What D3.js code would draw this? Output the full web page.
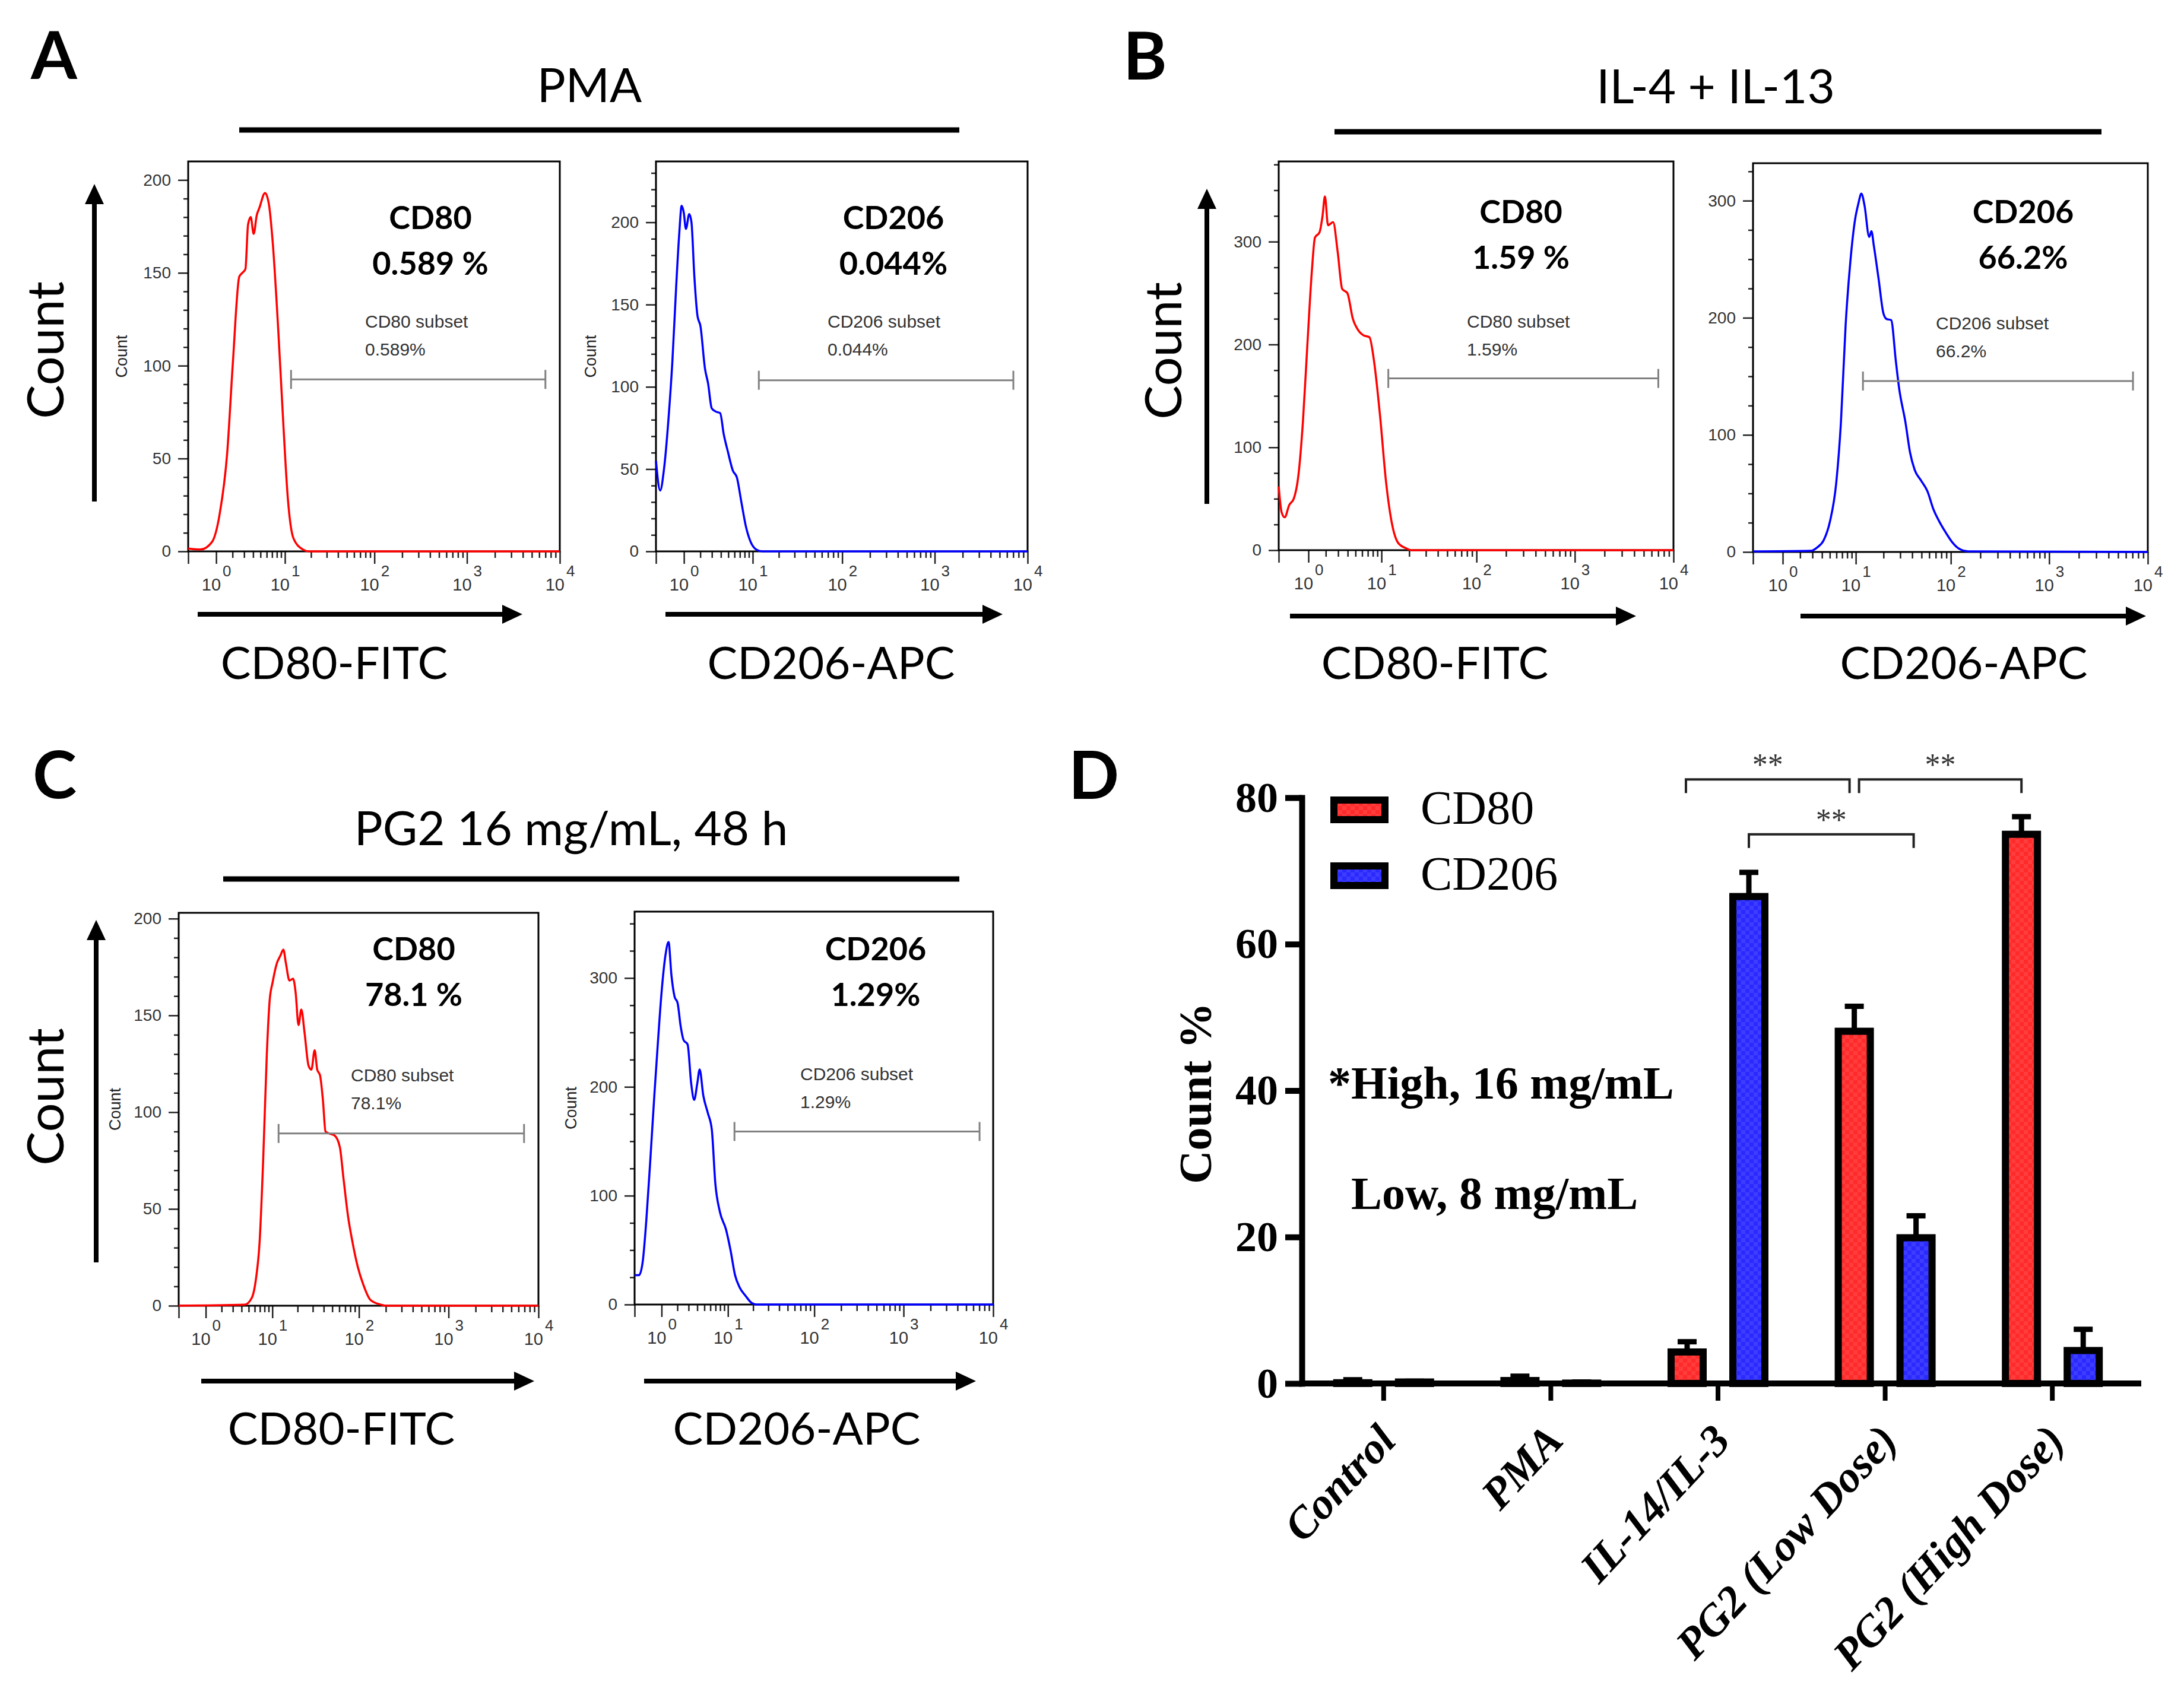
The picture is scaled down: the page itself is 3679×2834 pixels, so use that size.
<!DOCTYPE html>
<html>
<head>
<meta charset="utf-8">
<script src="https://d3js.org/d3.v7.min.js"></script>
<style>
body { margin: 0; background: #fff; }
svg { display: block; }
</style>
</head>
<body>
<script>
var width = 3679;
var height = 2834;

var SANS = "Lato, 'Open Sans', sans-serif";
var ARIAL = "'Liberation Sans', Arial, sans-serif";
var SERIF = "'Liberation Serif', 'Times New Roman', serif";

// Histogram traces: [fluorescence, count]

var histA80 = [[0,1.5],[0.36,1],[0.8,5],[1.18,20],[1.63,53],[2.03,102],[2.55,148],[2.83,150],[3.13,152],[3.41,176],[3.71,180],[4.07,171],[4.47,181],[4.84,185],[5.72,193],[6.39,187],[7.11,167],[8.35,118],[9.56,69],[10.8,29],[12.6,7],[16.2,1],[19,0],[10000,0]];
var histA206 = [[0,55],[0.11,37],[0.22,50],[0.37,82],[0.5,115],[0.65,161],[0.78,193],[0.89,210],[0.99,206],[1.1,196],[1.28,205],[1.41,200],[1.59,167],[1.8,143],[2.01,137],[2.37,111],[2.64,102],[2.98,87],[3.39,85],[3.91,84],[4.37,71],[4.92,61],[5.73,49],[6.42,45],[7.3,30],[8.3,15],[9.4,6],[11.1,1],[13,0],[10000,0]];
var histB80 = [[0,62],[0.07,37],[0.15,32],[0.28,44],[0.42,50],[0.58,72],[0.76,125],[0.95,199],[1.17,272],[1.33,304],[1.59,309],[1.78,325],[1.94,344],[2.16,316],[2.56,319],[2.96,290],[3.4,254],[3.96,250],[4.64,225],[5.49,213],[6.21,209],[7.31,207],[8.24,184],[9.63,131],[11.25,66],[13.1,25],[15.25,7],[18.4,2],[21.3,0],[10000,0]];
var histB206 = [[0,0.5],[2.88,1],[3.49,4],[4.2,10],[5.02,26],[5.97,59],[6.78,111],[7.68,194],[8.69,248],[9.82,284],[10.64,297],[11.53,306],[12.48,296],[14.04,269],[14.83,274],[15.79,261],[17.74,233],[19.92,204],[21.5,199],[24.1,198],[27,163],[29.2,140],[34,111],[38,85],[42.5,70],[49.4,61],[57.4,52],[66.6,36],[77.3,25],[89.6,16],[104,8],[120,3],[150,0.5],[10000,0]];
var histC80 = [[0,0],[4.39,0.5],[5.49,4],[6.24,14],[6.94,33],[7.71,76],[8.55,130],[9.28,158],[10.07,167],[11.36,177],[12.55,181],[13.58,184],[14.56,177],[16.06,168],[17.7,169],[18.95,162],[20.5,145],[22.1,153],[24.1,141],[26.8,124],[28.9,122],[31.5,132],[33.7,122],[36.3,119],[39.2,106],[41.9,90],[46,89],[53,88],[60.9,82],[66.9,66],[75.5,46],[84.5,33],[97.1,20],[111.7,11],[134.5,3],[178,0.5],[200,0],[10000,0]];
var histC206 = [[0,27],[0.12,27],[0.23,39],[0.35,77],[0.5,134],[0.66,192],[0.82,241],[1.0,287],[1.21,321],[1.39,333],[1.58,302],[1.79,283],[2.02,277],[2.26,256],[2.52,243],[2.9,239],[3.28,203],[3.62,188],[4.0,203],[4.32,216],[4.84,192],[5.56,176],[6.26,161],[6.96,111],[7.95,85],[9.46,69],[10.75,50],[12.2,27],[13.8,16],[16.3,8],[19.2,1.5],[22,0],[10000,0]];

// Gates and their read-outs
var gateLo = [11.8, 11.8, 11.9, 12.0, 11.9, 12.0];
var gateHi = [7000, 7026, 7020, 7080, 6920, 7050];
var gateY = [92.6, 104, 167, 146, 89, 159];
var markers = ["CD80", "CD206", "CD80", "CD206", "CD80", "CD206"];
var headPct = ["0.589 %", "0.044%", "1.59 %", "66.2%", "78.1 %", "1.29%"];
var subsetPct = ["0.589%", "0.044%", "1.59%", "66.2%", "78.1%", "1.29%"];
var channels = ["CD80-FITC", "CD206-APC", "CD80-FITC", "CD206-APC", "CD80-FITC", "CD206-APC"];
var decades = [1, 10, 100, 1000, 10000];

// Bar chart values (Count %)
var groups = ["Control", "PMA", "IL-14/IL-3", "PG2 (Low Dose)", "PG2 (High Dose)"];
var seriesNames = ["CD80", "CD206"];
var cd80Mean = [0.1, 0.4, 4.3, 48.1, 75.0];
var cd80Err = [0.4, 0.6, 1.4, 3.4, 2.4];
var cd206Mean = [0.2, 0.05, 66.5, 19.9, 4.5];
var cd206Err = [0.1, 0.15, 3.3, 3.0, 2.9];
var yTicksD = [0, 20, 40, 60, 80];
var sigFromGroup = [2, 3, 2];
var sigToGroup = [3, 4, 3];
var sigSeries = [0, 0, 1];
var sigLevel = [82.5, 82.5, 75.0];
var sigLabel = ["**", "**", "**"];

// Layout of the six histogram boxes
var flowPanels = [
  {x0: 317, x1: 943, y0: 272, y1: 929, yMax: 210, major: 50, minor: 10, color: "#ff0000", hist: histA80,
   lx: 725, ly: 386, sx: 615, sy: 552, cx: 205, arrow: [333, 880, 1035], ax: 563, ay: 1144},
  {x0: 1105, x1: 1731, y0: 272, y1: 929, yMax: 237, major: 50, minor: 10, color: "#0000ff", hist: histA206,
   lx: 1505, ly: 386, sx: 1394, sy: 552, cx: 995, arrow: [1121, 1689, 1035], ax: 1400, ay: 1144},
  {x0: 2154, x1: 2819, y0: 272, y1: 927, yMax: 378, major: 100, minor: 25, color: "#ff0000", hist: histB80,
   lx: 2562, ly: 376, sx: 2471, sy: 552, cx: null, arrow: [2173, 2756, 1038], ax: 2417, ay: 1144},
  {x0: 2953, x1: 3618, y0: 275, y1: 930, yMax: 332, major: 100, minor: 25, color: "#0000ff", hist: histB206,
   lx: 3408, ly: 376, sx: 3261, sy: 555, cx: null, arrow: [3033, 3615, 1038], ax: 3308, ay: 1144},
  {x0: 301, x1: 907, y0: 1538, y1: 2200, yMax: 203, major: 50, minor: 10, color: "#ff0000", hist: histC80,
   lx: 697, ly: 1618, sx: 591, sy: 1822, cx: 194, arrow: [339, 900, 2327], ax: 575, ay: 2434},
  {x0: 1069, x1: 1673, y0: 1536, y1: 2198, yMax: 361, major: 100, minor: 25, color: "#0000ff", hist: histC206,
   lx: 1475, ly: 1618, sx: 1348, sy: 1820, cx: 962, arrow: [1085, 1644, 2327], ax: 1342, ay: 2434}
];

var svg = d3.select("body").append("svg")
  .attr("width", width)
  .attr("height", height);

svg.append("rect").attr("width", width).attr("height", height).attr("fill", "#fff");

var defs = svg.append("defs");
function checker(id, base, dark) {
  var p = defs.append("pattern").attr("id", id)
    .attr("width", 14).attr("height", 14).attr("patternUnits", "userSpaceOnUse");
  p.append("rect").attr("width", 14).attr("height", 14).attr("fill", base);
  p.append("rect").attr("width", 7).attr("height", 7).attr("fill", dark);
  p.append("rect").attr("x", 7).attr("y", 7).attr("width", 7).attr("height", 7).attr("fill", dark);
}
checker("redChk", "#ff3d3d", "#ff2a2a");
checker("blueChk", "#3d3dff", "#2a2aff");
var fills = ["url(#redChk)", "url(#blueChk)"];

// Helpers

var arrow = function(x1, y1, x2, y2) {
  var ang = Math.atan2(y2 - y1, x2 - x1);
  var len = 34, half = 16;
  var bx = x2 - len * Math.cos(ang), by = y2 - len * Math.sin(ang);
  svg.append("line")
    .attr("x1", x1).attr("y1", y1).attr("x2", bx).attr("y2", by)
    .attr("stroke", "#000").attr("stroke-width", 8);
  svg.append("path")
    .attr("d", "M" + x2 + "," + y2 +
      "L" + (bx - half * Math.sin(ang)) + "," + (by + half * Math.cos(ang)) +
      "L" + (bx + half * Math.sin(ang)) + "," + (by - half * Math.cos(ang)) + "Z")
    .attr("fill", "#000");
};

var label = function(txt, x, y, size, font, opts) {
  opts = opts || {};
  var t = svg.append("text")
    .attr("x", x).attr("y", y)
    .attr("font-family", font)
    .attr("font-size", size)
    .attr("font-weight", opts.weight || "normal")
    .attr("font-style", opts.style || "normal")
    .attr("text-anchor", opts.anchor || "start")
    .attr("fill", opts.fill || "#000")
    .text(txt);
  if (opts.rotate !== undefined) {
    t.attr("x", 0).attr("y", 0)
      .attr("transform", "translate(" + x + "," + y + ") rotate(" + opts.rotate + ")");
  }
  if (opts.central) t.attr("dominant-baseline", "central");
  return t;
};

var styleAxis = function(sel, color, w) {
  sel.select(".domain").remove();
  sel.selectAll(".tick line").attr("stroke", color).attr("stroke-width", w);
};

// Panel letters, titles and title rules

label("A", 52, 133, 112, SANS, {weight: "bold"});
label("B", 1892, 134, 112, SANS, {weight: "bold"});
label("C", 55, 1345, 112, SANS, {weight: "bold"});
label("D", 1800, 1346, 112, SANS, {weight: "bold"});

label("PMA", 993, 172, 80, SANS, {anchor: "middle"});
label("IL-4 + IL-13", 2890, 174, 80, SANS, {anchor: "middle"});
label("PG2 16 mg/mL, 48 h", 962, 1424, 80, SANS, {anchor: "middle"});

[[403, 1616, 219], [2248, 3540, 222], [376, 1616, 1481]].forEach(function(r) {
  svg.append("line").attr("x1", r[0]).attr("x2", r[1]).attr("y1", r[2]).attr("y2", r[2])
    .attr("stroke", "#000").attr("stroke-width", 9);
});

// Big "Count" labels with their arrows
label("Count", 73, 590, 86, SANS, {anchor: "middle", rotate: -90, central: true});
label("Count", 1956, 591, 86, SANS, {anchor: "middle", rotate: -90, central: true});
label("Count", 73, 1848, 86, SANS, {anchor: "middle", rotate: -90, central: true});
arrow(159, 845, 159, 310);
arrow(2033, 849, 2033, 318);
arrow(162, 2127, 162, 1550);

// Histogram panels

flowPanels.forEach(function(p, i) {
  var x = d3.scaleSymlog().constant(1).domain([0, 10000]).range([p.x0, p.x1]);
  var y = d3.scaleLinear().domain([0, p.yMax]).range([p.y1, p.y0]);
  var g = svg.append("g");

  var majorY = d3.range(0, p.yMax + 0.01, p.major);
  var minorY = d3.range(0, p.yMax, p.minor).filter(function(v) { return v % p.major !== 0; });

  g.append("g").attr("transform", "translate(" + p.x0 + ",0)")
    .call(d3.axisLeft(y).tickValues(minorY).tickSize(8).tickFormat(""))
    .call(styleAxis, "#222", 2.5);
  g.append("g").attr("transform", "translate(" + p.x0 + ",0)")
    .call(d3.axisLeft(y).tickValues(majorY).tickSize(17).tickPadding(12))
    .call(styleAxis, "#222", 2.5)
    .selectAll("text")
    .attr("font-family", ARIAL).attr("font-size", 28).attr("fill", "#333");

  var minorX = [];
  decades.slice(0, 4).forEach(function(d) {
    for (var k = 2; k < 10; k++) minorX.push(k * d);
  });
  g.append("g").attr("transform", "translate(0," + p.y1 + ")")
    .call(d3.axisBottom(x).tickValues(minorX).tickSize(11).tickFormat(""))
    .call(styleAxis, "#222", 2.5);
  g.append("g").attr("transform", "translate(0," + p.y1 + ")")
    .call(d3.axisBottom(x).tickValues([0].concat(decades)).tickSize(21).tickFormat(""))
    .call(styleAxis, "#222", 2.5);

  decades.forEach(function(v, k) {
    g.append("text").attr("x", x(v) + 8).attr("y", p.y1 + 66)
      .attr("text-anchor", "end").attr("font-family", ARIAL).attr("font-size", 29)
      .attr("fill", "#333").text("10");
    g.append("text").attr("x", x(v) + 11).attr("y", p.y1 + 42)
      .attr("font-family", ARIAL).attr("font-size", 26)
      .attr("fill", "#333").text(k);
  });

  g.append("rect")
    .attr("x", p.x0).attr("y", p.y0)
    .attr("width", p.x1 - p.x0).attr("height", p.y1 - p.y0)
    .attr("fill", "none").attr("stroke", "#000").attr("stroke-width", 3);

  var line = d3.line()
    .x(function(d) { return x(d[0]); })
    .y(function(d) { return y(d[1]); })
    .curve(d3.curveMonotoneX);
  g.append("path").datum(p.hist)
    .attr("d", line)
    .attr("fill", "none")
    .attr("stroke", p.color)
    .attr("stroke-width", 3.5);

  // gate
  var gy = y(gateY[i]);
  g.append("line").attr("x1", x(gateLo[i])).attr("x2", x(gateHi[i]))
    .attr("y1", gy).attr("y2", gy).attr("stroke", "#808080").attr("stroke-width", 3);
  [gateLo[i], gateHi[i]].forEach(function(v) {
    g.append("line").attr("x1", x(v)).attr("x2", x(v))
      .attr("y1", gy - 16).attr("y2", gy + 16)
      .attr("stroke", "#808080").attr("stroke-width", 3);
  });

  label(markers[i], p.lx, p.ly, 54, SANS, {weight: "bold", anchor: "middle"});
  label(headPct[i], p.lx, p.ly + 77, 54, SANS, {weight: "bold", anchor: "middle"});
  label(markers[i] + " subset", p.sx, p.sy, 30, ARIAL, {fill: "#333"});
  label(subsetPct[i], p.sx, p.sy + 47, 30, ARIAL, {fill: "#333"});

  if (p.cx !== null) {
    label("Count", p.cx, (p.y0 + p.y1) / 2, 27, ARIAL, {anchor: "middle", rotate: -90, central: true, fill: "#222"});
  }

  arrow(p.arrow[0], p.arrow[2], p.arrow[1], p.arrow[2]);
  label(channels[i], p.ax, p.ay, 76, SANS, {anchor: "middle"});
});

// Panel D: grouped bar chart

var xD = d3.scaleBand().domain(groups).range([2190, 3598]);
var xSub = d3.scalePoint().domain(seriesNames).range([-52, 52]);
var yD = d3.scaleLinear().domain([0, 80]).range([2331, 1344]);
var barW = 54;
var means = [cd80Mean, cd206Mean];
var errs = [cd80Err, cd206Err];

var centerX = function(gi, si) {
  return xD(groups[gi]) + xD.bandwidth() / 2 + xSub(seriesNames[si]);
};

var rows = [];
groups.forEach(function(gname, gi) {
  seriesNames.forEach(function(s, si) {
    rows.push({gi: gi, si: si, v: means[si][gi], e: errs[si][gi]});
  });
});

var gD = svg.append("g");

// error bars (upper only)
gD.selectAll("line.err").data(rows).enter().append("line")
  .attr("class", "err")
  .attr("x1", function(d) { return centerX(d.gi, d.si); })
  .attr("x2", function(d) { return centerX(d.gi, d.si); })
  .attr("y1", function(d) { return yD(d.v); })
  .attr("y2", function(d) { return yD(d.v + d.e); })
  .attr("stroke", "#000").attr("stroke-width", 9);
gD.selectAll("line.cap").data(rows).enter().append("line")
  .attr("class", "cap")
  .attr("x1", function(d) { return centerX(d.gi, d.si) - 16; })
  .attr("x2", function(d) { return centerX(d.gi, d.si) + 16; })
  .attr("y1", function(d) { return yD(d.v + d.e); })
  .attr("y2", function(d) { return yD(d.v + d.e); })
  .attr("stroke", "#000").attr("stroke-width", 9);

gD.selectAll("rect.bar").data(rows).enter().append("rect")
  .attr("class", "bar")
  .attr("x", function(d) { return centerX(d.gi, d.si) - barW / 2; })
  .attr("y", function(d) { return yD(d.v); })
  .attr("width", barW)
  .attr("height", function(d) { return yD(0) - yD(d.v); })
  .attr("fill", function(d) { return fills[d.si]; })
  .attr("stroke", "#000").attr("stroke-width", 12);

// axes
gD.append("g").attr("transform", "translate(2193,0)")
  .call(d3.axisLeft(yD).tickValues(yTicksD).tickSize(28).tickPadding(12).tickSizeOuter(0))
  .call(function(a) {
    a.select(".domain").attr("stroke", "#000").attr("stroke-width", 10).attr("stroke-linecap", "square");
    a.selectAll(".tick line").attr("stroke", "#000").attr("stroke-width", 10);
    a.selectAll("text").attr("font-family", SERIF).attr("font-weight", "bold")
      .attr("font-size", 72).attr("fill", "#000");
  });

gD.append("line").attr("x1", 2190).attr("x2", 3607).attr("y1", yD(0)).attr("y2", yD(0))
  .attr("stroke", "#000").attr("stroke-width", 10);
gD.append("g").attr("transform", "translate(0," + yD(0) + ")")
  .call(d3.axisBottom(xD).tickSize(29).tickFormat(""))
  .call(styleAxis, "#000", 8);

groups.forEach(function(gname) {
  label(gname, xD(gname) + xD.bandwidth() / 2 + 24, 2430, 74, SERIF,
    {weight: "bold", style: "italic", anchor: "end", rotate: -47});
});

label("Count %", 2013, 1842, 78, SERIF, {weight: "bold", anchor: "middle", rotate: -90, central: true});

// legend
seriesNames.forEach(function(s, si) {
  var ly = 1348 + si * 111;
  gD.append("rect").attr("x", 2247).attr("y", ly).attr("width", 86).attr("height", 33)
    .attr("fill", fills[si]).attr("stroke", "#000").attr("stroke-width", 12);
  label(s, 2393, ly + 40, 80, SERIF);
});

label("*High, 16 mg/mL", 2237, 1851, 78, SERIF, {weight: "bold"});
label("Low, 8 mg/mL", 2276, 2037, 78, SERIF, {weight: "bold"});

// significance brackets
var sigInset = [[-2, -8], [8, 0], [0, -4]];
sigLevel.forEach(function(lv, k) {
  var xa = centerX(sigFromGroup[k], sigSeries[k]) + sigInset[k][0];
  var xb = centerX(sigToGroup[k], sigSeries[k]) + sigInset[k][1];
  var yy = yD(lv);
  gD.append("path")
    .attr("d", "M" + xa + "," + (yy + 23) + "V" + yy + "H" + xb + "V" + (yy + 23))
    .attr("fill", "none").attr("stroke", "#222").attr("stroke-width", 4);
  label(sigLabel[k], (xa + xb) / 2, yy - 7, 52, SERIF, {anchor: "middle", fill: "#333"});
});
</script>
</body>
</html>
